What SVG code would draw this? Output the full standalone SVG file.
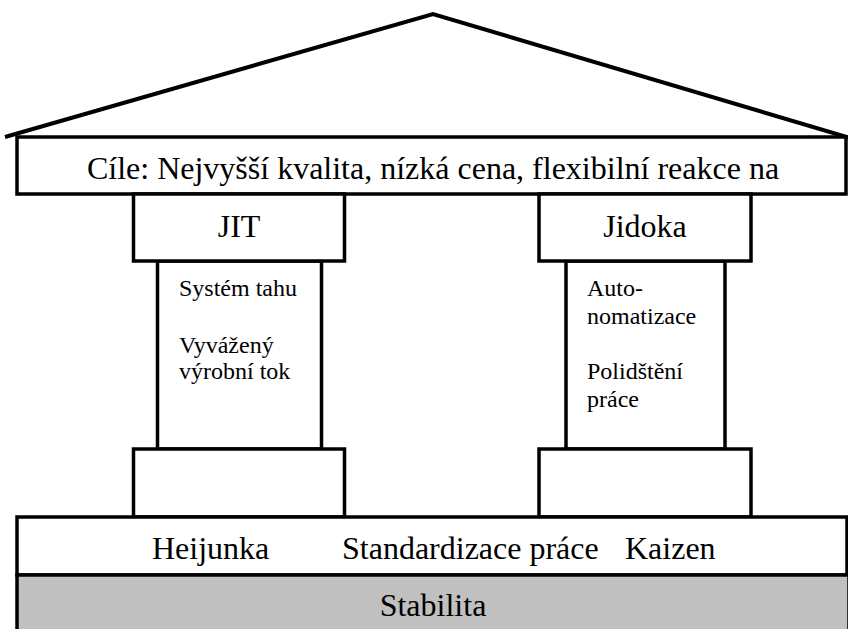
<svg xmlns="http://www.w3.org/2000/svg" width="848" height="629" viewBox="0 0 848 629">
  <style>
    .ln { fill: #ffffff; stroke: #000000; stroke-width: 3.5; }
    .gray { fill: #c0c0c0; stroke: #000000; stroke-width: 3.5; }
    text { font-family: 'Liberation Serif', 'Times New Roman', Tinos, 'DejaVu Serif', serif; fill: #000000; }
    .big { font-size: 32px; }
    .small { font-size: 24px; }
    .mid { text-anchor: middle; }
  </style>
  <rect x="0" y="0" width="848" height="629" fill="#ffffff"/>
  <g id="roof">
    <polyline points="5,137 433,14 850,138" fill="none" stroke="#000000" stroke-width="4" stroke-linejoin="miter"/>
  </g>
  <g id="goals">
    <rect class="ln" x="17" y="137" width="829" height="57"/>
    <text class="big mid" x="433" y="179" font-family="Liberation Serif, serif">Cíle: Nejvyšší kvalita, nízká cena, flexibilní reakce na</text>
  </g>
  <g id="pillar-jit">
    <rect class="ln" x="157.5" y="261" width="164" height="188"/>
    <rect class="ln" x="133.5" y="194" width="211" height="67"/>
    <rect class="ln" x="133.5" y="449" width="211" height="68"/>
    <text class="big mid" x="239" y="237">JIT</text>
    <text class="small" x="179" y="296">Systém tahu</text>
    <text class="small" x="179" y="353">Vyvážený</text>
    <text class="small" x="179" y="379">výrobní tok</text>
  </g>
  <g id="pillar-jidoka">
    <rect class="ln" x="566" y="261" width="159" height="188"/>
    <rect class="ln" x="539" y="194" width="212" height="67"/>
    <rect class="ln" x="539" y="449" width="212" height="68"/>
    <text class="big mid" x="645" y="237">Jidoka</text>
    <text class="small" x="587" y="296">Auto-</text>
    <text class="small" x="587" y="324">nomatizace</text>
    <text class="small" x="587" y="379">Polidštění</text>
    <text class="small" x="587" y="407">práce</text>
  </g>
  <g id="foundation">
    <rect class="ln" x="17" y="517" width="830" height="58"/>
    <text class="big" x="152" y="559">Heijunka</text>
    <text class="big" x="342" y="559">Standardizace práce</text>
    <text class="big" x="625" y="559">Kaizen</text>
  </g>
  <g id="stabilita">
    <rect class="gray" x="17" y="575" width="832" height="60"/>
    <text class="big mid" x="433" y="616">Stabilita</text>
  </g>
</svg>
